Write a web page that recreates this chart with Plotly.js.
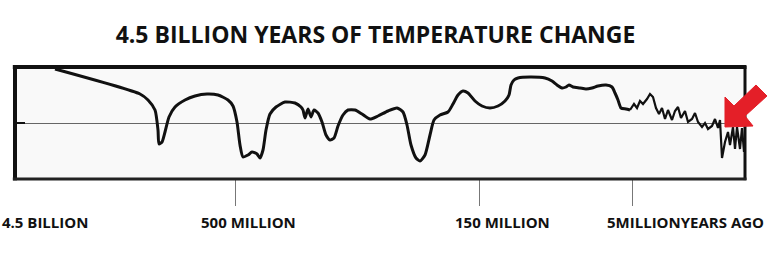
<!DOCTYPE html>
<html>
<head>
<meta charset="utf-8">
<script src="https://cdn.plot.ly/plotly-3.0.1.min.js"></script>
<style>html,body{margin:0;padding:0;background:#fff;}#chart{width:772px;height:278px;}</style>
</head>
<body>
<div id="chart"></div>
<script>
// Timeline position (arbitrary, non-linear geologic time axis, left = oldest)
const posSmooth = [40,125,133,140,143,144,147,150,154,160,170,180,192,203,213,218,222,225,228,233,237,242,245,248,251,255,261,270,280,286,288,290,293,296,299,303,307,311,315,319,323,328,333,340,347,355,363,373,382,388,392,396,401,405,410,415,419,425,433,438,443,448,453,460,467,475,483,490,494,496,499,503,515,530,537,542,547,551,554,558,565,571,577,583,591,597,600,603,606,611,615];
// Relative temperature (0 = present-day average line)
const tempSmooth = [54,29,23,13,-7,-21,-19,-9,6,16,23,27,29,28,23,17,1,-22,-34,-32,-29,-31,-35,-27,-7,9,16,21,20,16,13,5,14,6,13,10,1,-12,-17,-15,-3,8,13,13,9,4,7,12,15,11,-2,-22,-35,-38,-32,-12,3,8,11,19,28,32,30,22,17,15,17,22,28,38,43,45,46,45,42,38,35,36,38,36,35,34,35,37,38,36,30,23,15,14,13];
const posRecent = [615,619,622,625,628,632,635,638,641,644,647,650,653,657,660,663,666,670,673,677,680,683,687,690,693,697,700,703,705,707,710,713,715,718,720,722,725,727,729];
const tempRecent = [13,19,15,22,19,24,29,26,15,9,15,4,13,3,12,16,5,12,1,4,10,1,-4,0,-6,-3,4,-5,3,-35,-19,-9,-22,-4,-26,-4,-26,-5,-29];

const tickPositions = [220, 464, 617];
const labelPositions = [30, 233, 487, 670];
const labelTexts = ['4.5 BILLION', '500 MILLION', '150 MILLION', '5MILLIONYEARS AGO'];
const titleText = '4.5 BILLION YEARS OF TEMPERATURE CHANGE';

const FONT = 'Open Sans, Lato, DejaVu Sans, sans-serif';

const traces = [
  {x: posSmooth, y: tempSmooth, type: 'scatter', mode: 'lines',
   line: {color: '#111', width: 3, shape: 'spline', smoothing: 0.6}, hoverinfo: 'skip'},
  {x: posRecent, y: tempRecent, type: 'scatter', mode: 'lines',
   line: {color: '#111', width: 2.2, shape: 'linear'}, hoverinfo: 'skip'}
];

const annotations = labelTexts.map((t, i) => ({
  x: labelPositions[i], xref: 'x', y: -0.384, yref: 'paper',
  text: t, showarrow: false, xanchor: 'center', yanchor: 'middle',
  font: {family: FONT, size: 15, color: '#111', weight: 'bold'}
}));

const arrowPath = 'M 0.9726 0.4643 L 0.9726 0.7321 L 0.9849 0.6518 L 1.0151 0.8393 L 1.0301 0.7411 L 1.0 0.5625 L 1.011 0.4732 Z';

const shapes = [
  {type: 'line', xref: 'paper', yref: 'paper', x0: 0, x1: 0, y0: -0.012, y1: 1.018, line: {color: '#111', width: 4}, layer: 'above'},
  {type: 'line', xref: 'paper', yref: 'paper', x0: -0.003, x1: 1.002, y0: 1, y1: 1, line: {color: '#111', width: 4}, layer: 'above'},
  {type: 'line', xref: 'paper', yref: 'paper', x0: 1, x1: 1, y0: -0.01, y1: 1.01, line: {color: '#111', width: 3}, layer: 'above'},
  {type: 'line', xref: 'paper', yref: 'paper', x0: -0.003, x1: 1.002, y0: 0, y1: 0, line: {color: '#222', width: 3}, layer: 'above'},
  {type: 'path', xref: 'paper', yref: 'paper', path: arrowPath, fillcolor: '#e41f28', line: {color: '#e41f28', width: 1}, layer: 'above'}
];

const layout = {
  width: 772, height: 278,
  margin: {l: 15, r: 27, t: 67, b: 99},
  paper_bgcolor: '#ffffff',
  plot_bgcolor: '#f9f9f9',
  showlegend: false,
  title: {text: titleText, x: 0.4864, xref: 'container', xanchor: 'center',
          y: 0.874, yref: 'container', yanchor: 'middle',
          font: {family: FONT, size: 23, color: '#111', weight: 'bold'}},
  xaxis: {range: [0, 730], showgrid: false, zeroline: false, showline: false,
          tickmode: 'array', tickvals: tickPositions, ticks: 'outside', ticklen: 26,
          tickwidth: 1, tickcolor: '#777', showticklabels: false, fixedrange: true},
  yaxis: {range: [-56, 56], showgrid: false, zeroline: true, zerolinecolor: '#666',
          zerolinewidth: 1, showline: false, tickmode: 'array', tickvals: [0],
          ticks: 'inside', ticklen: 10, tickwidth: 2, tickcolor: '#111',
          showticklabels: false, fixedrange: true},
  annotations: annotations,
  shapes: shapes
};

Plotly.newPlot('chart', traces, layout, {staticPlot: true, displayModeBar: false});
</script>
</body>
</html>
